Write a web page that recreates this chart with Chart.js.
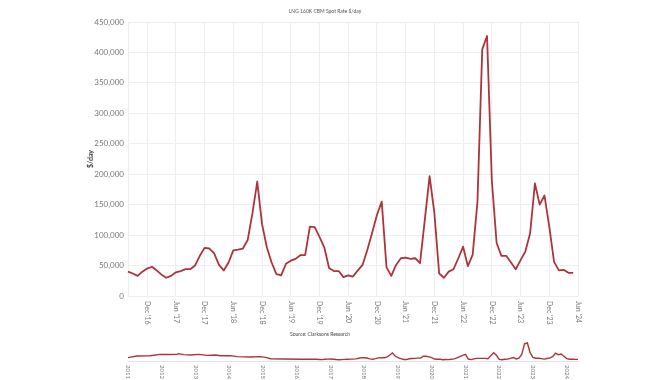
<!DOCTYPE html>
<html><head><meta charset="utf-8">
<script src="https://cdn.jsdelivr.net/npm/chart.js@4"></script>
<style>
html,body{margin:0;padding:0;background:#fff;}
#wrap{position:relative;width:670px;height:380px;overflow:hidden;}
#main{position:absolute;left:0;top:0;}
#nav{position:absolute;left:0;top:336px;}
</style></head><body>
<div id="wrap"><canvas id="main" width="670" height="380"></canvas><canvas id="nav" width="670" height="44"></canvas></div>
<script>
const chartTitle = "LNG 160K CBM Spot Rate $/day";
const yAxisTitle = "$/day";
const sourceText = "Source: Clarksons Research";
const monthNames = ["Jan","Feb","Mar","Apr","May","Jun","Jul","Aug","Sep","Oct","Nov","Dec"];
const tickMonths = ["Jun","Dec"];
const firstYear = 2016;
const firstMonth = 7; // August (0-based)
// Monthly spot rate, Aug 2016 .. May 2024 ($/day)
const spotRates = [
  40000, 37000, 33000, 40000, 45000, 48000, 42000, 35000, 30000, 33000, 39000, 41000,
  44000, 44000, 50000, 66000, 79000, 78000, 70000, 51000, 42000, 55000, 75000, 76000,
  78000, 92000, 136000, 188000, 118000, 80000, 55000, 36000, 34000, 53000, 58000, 61000,
  67000, 67000, 114000, 113000, 97000, 80000, 46000, 41000, 41000, 31000, 34000, 32000,
  42000, 51000, 76000, 104000, 133000, 155000, 47000, 33000, 51000, 62000, 63000, 61000,
  62000, 54000, 125000, 197000, 136000, 37000, 30000, 40000, 44000, 62000, 81000, 49000,
  68000, 155000, 405000, 427000, 190000, 87000, 66000, 66000, 55000, 44000, 59000, 73000,
  103000, 185000, 150000, 165000, 114000, 56000, 42000, 43000, 38000, 38000
];
const yTicks = [0, 50000, 100000, 150000, 200000, 250000, 300000, 350000, 400000, 450000];
// Navigator history before the main window (decimal year, $/day)
const navEarlyYears = [2011.0, 2011.26, 2011.65, 2011.95, 2012.2, 2012.45, 2012.5, 2012.65, 2012.85, 2013.1, 2013.35, 2013.6, 2013.74, 2014.04, 2014.24, 2014.63, 2014.93, 2015.08, 2015.23, 2015.63, 2016.12, 2016.5];
const navEarlyRates = [79000, 118000, 126000, 158000, 155000, 158000, 174000, 150000, 142000, 158000, 134000, 142000, 126000, 126000, 103000, 95000, 103000, 87000, 55000, 47000, 40000, 40000];
const navYearLabels = ["2011","2012","2013","2014","2015","2016","2017","2018","2019","2020","2021","2022","2023","2024"];

const lineColor = '#ad343a';
const gridColor = '#eeeeee';
const fontFamily = 'Lato, "Open Sans", sans-serif';

// categories: months from Aug '16 to Jun '24
const categories = [];
for (let i = 0; i <= spotRates.length; i++) {
  const m = (firstMonth + i) % 12;
  const y = firstYear + Math.floor((firstMonth + i) / 12);
  categories.push(monthNames[m] + " '" + String(y).slice(2));
}
const isTickIdx = i => tickMonths.includes(categories[i].slice(0,3));

const mainLabels = {
  id: 'mainLabels',
  afterDraw(chart) {
    const s = chart.scales.x, ctx = chart.ctx, ca = chart.chartArea;
    ctx.save();
    ctx.font = '7px ' + fontFamily;
    ctx.fillStyle = '#777';
    ctx.textAlign = 'left';
    ctx.textBaseline = 'middle';
    categories.forEach((lab, i) => {
      if (!isTickIdx(i)) return;
      const x = s.getPixelForTick(i);
      ctx.save();
      ctx.translate(x, ca.bottom + 5);
      ctx.rotate(Math.PI / 2);
      ctx.fillText(lab, 0, 0);
      ctx.restore();
    });
    ctx.font = '5px ' + fontFamily;
    ctx.fillStyle = '#444';
    ctx.textAlign = 'center';
    ctx.fillText(sourceText, 320, 334);
    ctx.restore();
  }
};

new Chart(document.getElementById('main'), {
  type: 'line',
  data: {
    labels: categories,
    datasets: [{
      data: spotRates,
      borderColor: lineColor,
      borderWidth: 1.8,
      pointRadius: 0,
      tension: 0,
      borderJoinStyle: 'round',
      fill: false
    }]
  },
  options: {
    responsive: false,
    devicePixelRatio: 1,
    animation: false,
    layout: { padding: { left: 72, right: 92, top: 0, bottom: 0 } },
    plugins: {
      legend: { display: false },
      tooltip: { enabled: false },
      title: {
        display: true, text: chartTitle, color: '#555',
        font: { family: fontFamily, size: 5, weight: 'normal' },
        padding: { top: 8.5, bottom: 7.5 }
      }
    },
    scales: {
      x: {
        type: 'category',
        offset: false,
        grid: { color: c => isTickIdx(c.index) ? gridColor : 'rgba(0,0,0,0)', drawTicks: false },
        border: { display: false },
        ticks: { display: false, autoSkip: false },
        afterFit: s => { s.height = 84; }
      },
      y: {
        min: 0, max: 450000,
        afterBuildTicks: s => { s.ticks = yTicks.map(v => ({ value: v })); },
        ticks: {
          color: '#777', padding: 4,
          font: { family: fontFamily, size: 8 },
          callback: v => Number(v).toLocaleString('en-US')
        },
        grid: { color: gridColor, drawTicks: false },
        border: { display: true, color: gridColor },
        title: {
          display: true, text: yAxisTitle, color: '#444',
          font: { family: fontFamily, size: 7, weight: 'bold' },
          padding: { top: 14.8, bottom: 0 }
        },
        afterFit: s => { s.width = 56; }
      }
    }
  },
  plugins: [mainLabels]
});

// Navigator
const navPoints = navEarlyYears.map((yr, i) => ({ x: yr, y: navEarlyRates[i] }));
spotRates.forEach((v, i) => navPoints.push({ x: firstYear + (firstMonth + i) / 12, y: v }));

const navLabels = {
  id: 'navLabels',
  afterDraw(chart) {
    const s = chart.scales.x, ctx = chart.ctx, ca = chart.chartArea;
    ctx.save();
    ctx.font = '6px ' + fontFamily;
    ctx.fillStyle = '#777';
    ctx.textAlign = 'left';
    ctx.textBaseline = 'middle';
    navYearLabels.forEach(lab => {
      const x = s.getPixelForValue(Number(lab));
      ctx.save();
      ctx.translate(x, ca.bottom + 4);
      ctx.rotate(Math.PI / 2);
      ctx.fillText(lab, 0, 0);
      ctx.restore();
    });
    ctx.restore();
  }
};

new Chart(document.getElementById('nav'), {
  type: 'line',
  data: {
    datasets: [{
      data: navPoints,
      borderColor: lineColor,
      borderWidth: 1.4,
      pointRadius: 0,
      tension: 0,
      fill: false
    }]
  },
  options: {
    responsive: false,
    devicePixelRatio: 1,
    animation: false,
    layout: { padding: { left: 128, right: 92, top: 6, bottom: 0 } },
    plugins: { legend: { display: false }, tooltip: { enabled: false } },
    scales: {
      x: {
        type: 'linear',
        min: 2011,
        max: navPoints[navPoints.length - 1].x,
        grid: { display: false },
        border: { display: true, color: '#e4e4e4' },
        ticks: { display: false },
        afterFit: s => { s.height = 19; }
      },
      y: { display: false, min: 0, max: 450000 }
    }
  },
  plugins: [navLabels]
});
</script>
</body></html>
